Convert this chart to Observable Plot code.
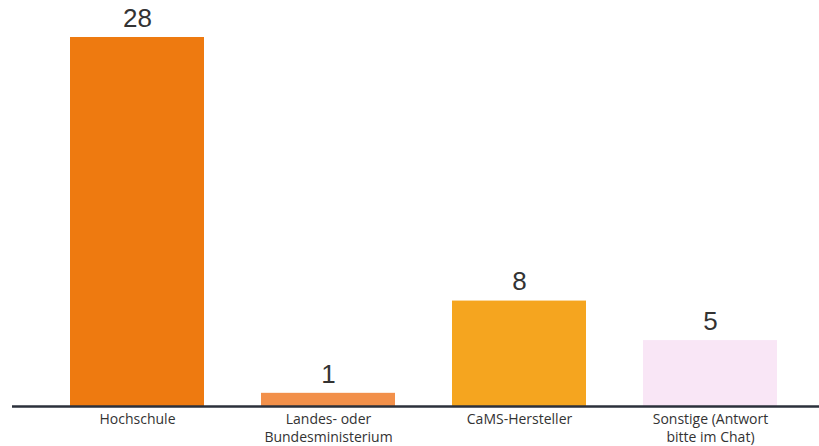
<!DOCTYPE html>
<html>
<head>
<meta charset="utf-8">
<script src="https://cdn.jsdelivr.net/npm/d3@7"></script>
<script src="https://cdn.jsdelivr.net/npm/@observablehq/plot@0.6"></script>
<style>
  html, body { margin: 0; padding: 0; background: #fff; }
  svg { display: block; }
</style>
</head>
<body>
<div id="chart"></div>
<script>
const categories = ["Hochschule", "Landes- oder Bundesministerium", "CaMS-Hersteller", "Sonstige (Antwort bitte im Chat)"];
const tickLabels = ["Hochschule", "Landes- oder\nBundesministerium", "CaMS-Hersteller", "Sonstige (Antwort\nbitte im Chat)"];
const values = [28, 1, 8, 5];
const colors = ["#EE7A10", "#F2904A", "#F5A51F", "#F9E6F6"];

const data = categories.map((c, i) => ({category: c, value: values[i], color: colors[i]}));
const labelOf = new Map(categories.map((c, i) => [c, tickLabels[i]]));

const chart = Plot.plot({
  width: 819,
  height: 446,
  marginTop: 37,
  marginBottom: 40,
  marginLeft: 12,
  marginRight: 0,
  style: {fontFamily: "'Open Sans', 'Noto Sans', sans-serif", background: "#fff"},
  x: {domain: categories, paddingInner: 0.3, paddingOuter: 0.2625, align: 0.58, label: null},
  y: {domain: [0, 28], axis: null},
  marks: [
    Plot.barY(data, {x: "category", y: "value", fill: "color"}),
    Plot.text(data, {x: "category", y: "value", text: d => String(d.value), dy: -19,
      fontSize: 26, fill: "#333", fontFamily: "'Liberation Sans', Arial, sans-serif"}),
    Plot.axisX({tickSize: 0, tickPadding: 5, fontSize: 14, fill: "#333",
      tickFormat: d => labelOf.get(d), lineHeight: 1.28}),
    Plot.ruleY([0], {stroke: "#2b303b", strokeWidth: 2.5})
  ]
});
document.getElementById("chart").appendChild(chart);
</script>
</body>
</html>
